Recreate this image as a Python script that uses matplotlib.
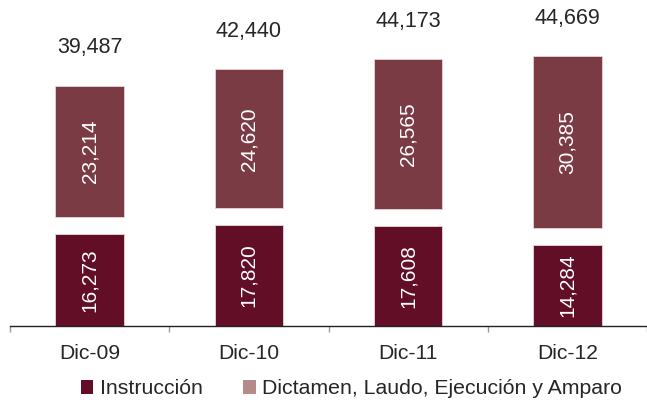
import matplotlib
matplotlib.use('Agg')
import matplotlib.pyplot as plt
from matplotlib.patches import Patch
import numpy as np

# Datos
periodos = ['Dic-09', 'Dic-10', 'Dic-11', 'Dic-12']
instruccion = [16273, 17820, 17608, 14284]
dictamen = [23214, 24620, 26565, 30385]
totales = [39487, 42440, 44173, 44669]

col_instr = '#630e27'
col_dict = '#7b3b45'
col_dict_leg = '#b48a8a'
col_txt = '#262626'

plt.rcParams['font.family'] = ['Liberation Sans', 'DejaVu Sans']

fig = plt.figure(figsize=(6.47, 4.0), dpi=100)
ax = fig.add_axes([10 / 647, 74 / 400, 637 / 647, 326 / 400])

x = np.arange(len(periodos))
gap = 3000  # espacio blanco entre segmentos
ancho = 0.43
bottom_top = np.array(instruccion) + gap

ax.bar(x, instruccion, width=ancho, color=col_instr, edgecolor='#e6ccd1', linewidth=0.7)
ax.bar(x, dictamen, width=ancho, bottom=bottom_top, color=col_dict, edgecolor='#e6ccd1', linewidth=0.7)

# etiquetas internas (rotadas) y totales arriba
for i in range(len(periodos)):
    ax.text(x[i], instruccion[i] / 2, f'{instruccion[i]:,}', rotation=90, ha='center', va='center',
            color='white', fontsize=15)
    ax.text(x[i], bottom_top[i] + dictamen[i] / 2, f'{dictamen[i]:,}', rotation=90, ha='center',
            va='center', color='white', fontsize=15)
    ax.text(x[i], totales[i] + gap + 6700, f'{totales[i]:,}', ha='center', va='center',
            color=col_txt, fontsize=15.5)

ax.set_xlim(-0.5, 3.426)
ax.set_ylim(0, 57660)

for s in ['top', 'right', 'left']:
    ax.spines[s].set_visible(False)
ax.spines['bottom'].set_color('#222222')
ax.spines['bottom'].set_linewidth(1.0)
ax.set_yticks([])

ax.set_xticks(x)
ax.set_xticklabels(periodos, fontsize=15.2, color=col_txt)
ax.tick_params(axis='x', which='major', length=0, pad=13)
ax.set_xticks(np.arange(-0.5, 4, 1), minor=True)
ax.tick_params(axis='x', which='minor', length=4.5, color='#999999', width=1)

handles = [Patch(facecolor=col_instr, label='Instrucción'),
           Patch(facecolor=col_dict_leg, label='Dictamen, Laudo, Ejecución y Amparo')]
fig.legend(handles=handles, loc='center', bbox_to_anchor=(0.543, 0.028), ncol=2, frameon=False,
           fontsize=15.3, handlelength=0.6, handleheight=0.6, handletextpad=0.3, columnspacing=1.9,
           labelcolor=col_txt)

fig.savefig('out.png', dpi=100)
